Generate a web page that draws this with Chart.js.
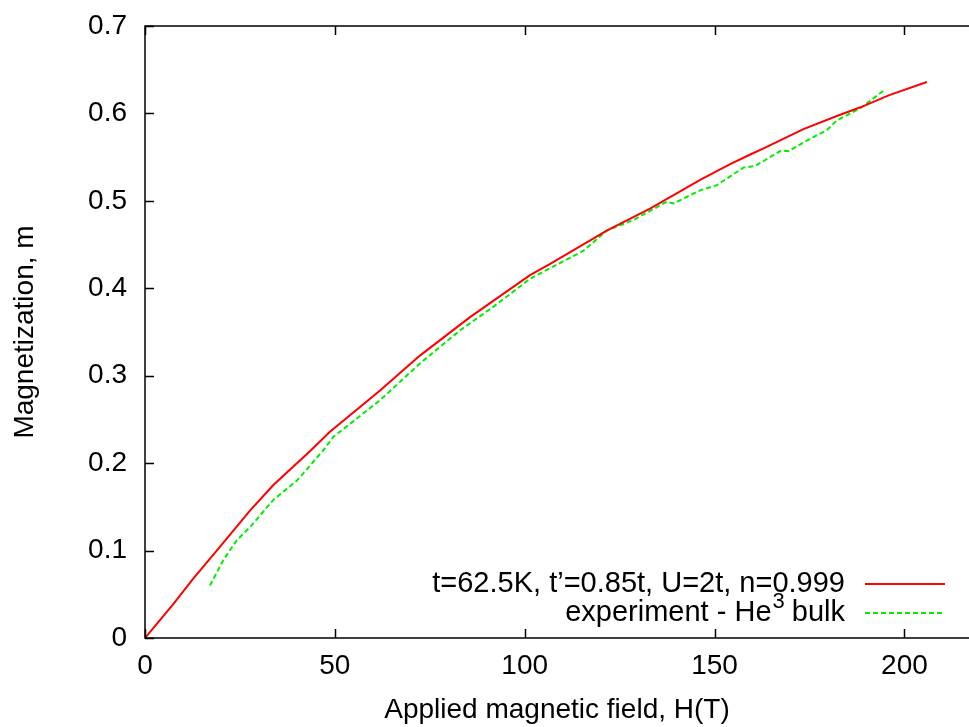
<!DOCTYPE html>
<html>
<head>
<meta charset="utf-8">
<script src="https://cdn.jsdelivr.net/npm/chart.js@4/dist/chart.umd.min.js"></script>
<style>
  body { margin: 0; background: #fff; }
  canvas { display: block; }
</style>
</head>
<body>
<canvas id="grafica" width="969" height="727"></canvas>
<script>
// DATOS

// modelo: t=62.5K, t'=0.85t, U=2t, n=0.999
const campoModelo = [0, 7.5, 12.7, 18.9, 27.7, 33.8, 43.5, 48.7, 61.9, 72.4, 85.6, 93.5,
    101.4, 106.7, 121.6, 133.0, 146.2, 154.1, 159.4, 162.9, 173.4, 182.2, 188.4, 196.0, 205.9];
const magModelo = [0, 0.039, 0.068, 0.100, 0.146, 0.175, 0.214, 0.236, 0.283, 0.323, 0.367, 0.391,
    0.415, 0.428, 0.466, 0.491, 0.524, 0.542, 0.553, 0.560, 0.582, 0.597, 0.607, 0.621, 0.636];

// experimento - He3 bulk
const campoExp = [17.1, 20.6, 24.2, 27.7, 33.8, 40.0, 47.0, 49.6, 61.9, 72.4, 83.0, 91.8, 101.4,
    115.5, 121.6, 128.6, 137.4, 139.2, 146.2, 150.6, 157.6, 160.7, 167.3, 169.5, 174.3, 179.6,
    182.2, 188.4, 194.5];
const magExp = [0.060, 0.089, 0.112, 0.127, 0.158, 0.180, 0.215, 0.230, 0.272, 0.314, 0.352, 0.379, 0.411,
    0.443, 0.466, 0.478, 0.499, 0.497, 0.512, 0.518, 0.538, 0.540, 0.557, 0.557, 0.569, 0.581,
    0.592, 0.606, 0.626];

const ticksX = [0, 50, 100, 150, 200];
const ticksY = [0, 0.1, 0.2, 0.3, 0.4, 0.5, 0.6, 0.7];

const etiquetaModelo = "t=62.5K, t\u2019=0.85t, U=2t, n=0.999";
const etiquetaExp = ["experiment - He", "3", " bulk"];

const FUENTE = "'Liberation Sans', Arial, sans-serif";


// PLUGIN: marco, marcas hacia dentro y leyenda

const marco = {
    id: 'marco',
    afterDraw(chart) {
        const { ctx, chartArea: a, scales: { x, y } } = chart;
        ctx.save();
        ctx.strokeStyle = '#000';
        ctx.lineWidth = 1.5;
        // el borde derecho queda fuera de la imagen
        ctx.beginPath();
        ctx.moveTo(chart.width, a.top); ctx.lineTo(a.left, a.top);
        ctx.lineTo(a.left, a.bottom); ctx.lineTo(chart.width, a.bottom);
        ctx.stroke();

        ctx.beginPath();
        ticksX.forEach(v => {
            const px = Math.round(x.getPixelForValue(v)) + 0.5;
            ctx.moveTo(px, a.bottom); ctx.lineTo(px, a.bottom - 9);
            ctx.moveTo(px, a.top); ctx.lineTo(px, a.top + 9);
        });
        ticksY.forEach(v => {
            const py = Math.round(y.getPixelForValue(v)) + 0.5;
            ctx.moveTo(a.left, py); ctx.lineTo(a.left + 9, py);
        });
        ctx.stroke();

        // leyenda
        const xTexto = a.right - 124;
        const fila1 = a.bottom - 54;
        const fila2 = a.bottom - 25;
        ctx.fillStyle = '#000';
        ctx.textBaseline = 'middle';
        ctx.textAlign = 'right';
        ctx.font = "29px " + FUENTE;
        ctx.fillText(etiquetaModelo, xTexto, fila1);

        ctx.textAlign = 'left';
        const w0 = ctx.measureText(etiquetaExp[0]).width;
        const w2 = ctx.measureText(etiquetaExp[2]).width;
        ctx.font = "22px " + FUENTE;
        const w1 = ctx.measureText(etiquetaExp[1]).width;
        const xi = xTexto - w0 - w1 - w2;
        ctx.font = "29px " + FUENTE;
        ctx.fillText(etiquetaExp[0], xi, fila2);
        ctx.font = "22px " + FUENTE;
        ctx.fillText(etiquetaExp[1], xi + w0 + 1, fila2 - 11);
        ctx.font = "29px " + FUENTE;
        ctx.fillText(etiquetaExp[2], xi + w0 + w1, fila2);

        ctx.lineWidth = 2;
        ctx.strokeStyle = '#ff0000';
        ctx.beginPath();
        ctx.moveTo(a.right - 104, fila1); ctx.lineTo(a.right - 24, fila1);
        ctx.stroke();
        ctx.strokeStyle = '#00ee00';
        ctx.setLineDash([5, 3]);
        ctx.beginPath();
        ctx.moveTo(a.right - 104, fila2); ctx.lineTo(a.right - 24, fila2);
        ctx.stroke();
        ctx.restore();
    }
};


// GRAFICA

const ctx = document.getElementById('grafica').getContext('2d');

new Chart(ctx, {
    type: 'line',
    data: {
        datasets: [{
            label: etiquetaModelo,
            data: campoModelo.map((h, i) => ({ x: h, y: magModelo[i] })),
            borderColor: '#ff0000',
            borderWidth: 2,
            pointRadius: 0,
            tension: 0
        }, {
            label: 'experiment - He3 bulk',
            data: campoExp.map((h, i) => ({ x: h, y: magExp[i] })),
            borderColor: '#00ee00',
            borderWidth: 2,
            borderDash: [5, 3],
            pointRadius: 0,
            tension: 0
        }]
    },
    options: {
        responsive: false,
        animation: false,
        layout: { padding: { top: 26, right: 0, left: 0, bottom: 0 } },
        plugins: {
            legend: { display: false },
            tooltip: { enabled: false }
        },
        scales: {
            x: {
                type: 'linear',
                min: 0,
                max: 217,
                afterBuildTicks: s => { s.ticks = ticksX.map(v => ({ value: v })); },
                afterFit: s => { s.height = 89; s.paddingLeft = 0; s.paddingRight = 0; },
                grid: { display: false, drawTicks: false },
                border: { display: false },
                ticks: {
                    color: '#000',
                    padding: 11,
                    maxRotation: 0,
                    font: { family: FUENTE, size: 28 }
                },
                title: {
                    display: true,
                    text: 'Applied magnetic field, H(T)',
                    color: '#000',
                    padding: { top: 0, bottom: 0 },
                    font: { family: FUENTE, size: 28 }
                }
            },
            y: {
                min: 0,
                max: 0.7,
                afterBuildTicks: s => { s.ticks = ticksY.map(v => ({ value: v })); },
                afterFit: s => { s.width = 145; s.paddingTop = 0; s.paddingBottom = 0; },
                grid: { display: false, drawTicks: false },
                border: { display: false },
                ticks: {
                    color: '#000',
                    padding: 18,
                    font: { family: FUENTE, size: 28 },
                    callback: v => String(v)
                },
                title: {
                    display: true,
                    text: 'Magnetization, m',
                    color: '#000',
                    padding: { top: 8, bottom: 0 },
                    font: { family: FUENTE, size: 28 }
                }
            }
        }
    },
    plugins: [marco]
});
</script>
</body>
</html>
